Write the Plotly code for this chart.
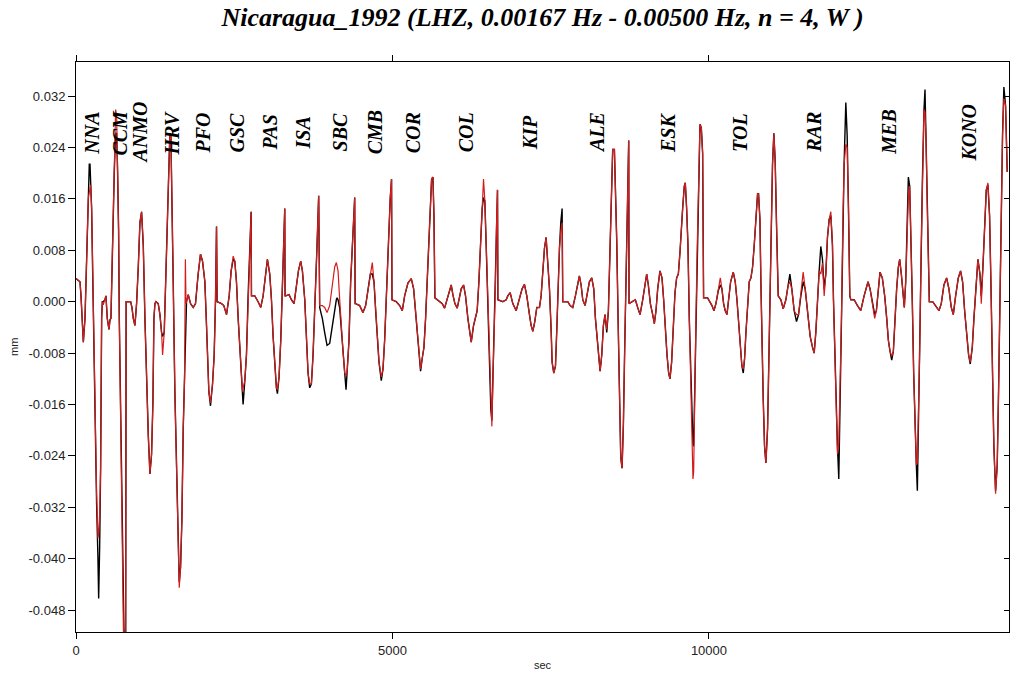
import plotly.graph_objects as go

# ---------------- data ----------------
station_names = ["NNA", "CCM", "ANMO", "HRV", "PFO", "GSC", "PAS", "ISA", "SBC", "CMB",
                 "COR", "COL", "KIP", "ALE", "ESK", "TOL", "RAR", "MEB", "KONO"]
station_label_t = [252, 694, 1010, 1515, 2004, 2540, 3061, 3582, 4166, 4718,
                   5318, 6154, 7164, 8221, 9342, 10478, 11661, 12845, 14107]
station_label_y = 0.0263

x_tick_vals = [0, 5000, 10000]
x_tick_text = ["0", "5000", "10000"]
y_tick_vals = [-0.048, -0.040, -0.032, -0.024, -0.016, -0.008, 0.0, 0.008, 0.016, 0.024, 0.032]
y_tick_text = ["-0.048", "-0.040", "-0.032", "-0.024", "-0.016", "-0.008", "0.000",
               "0.008", "0.016", "0.024", "0.032"]

t_sec = [
    # NNA
    0, 63, 79, 95, 116, 142, 158, 179, 195, 210, 221, 231, 247, 263, 284, 305, 326, 347, 358, 374, 389, 405, 416,
    # CCM
    431, 458, 473, 494, 521, 537, 552, 563, 589, 605, 626, 642, 657, 673, 684, 705, 721, 736, 757, 773, 784, 792,
    # ANMO
    800, 863, 884, 905, 931, 957, 984, 1010, 1036, 1063, 1089, 1115, 1142, 1168, 1194, 1215, 1231, 1247,
    # HRV
    1262, 1299, 1326, 1352, 1368, 1394, 1415, 1431, 1457, 1483, 1499, 1515, 1536, 1562, 1589, 1615, 1631, 1652,
    1673, 1694, 1715, 1728, 1738,
    # PFO
    1746, 1773, 1810, 1852, 1888, 1930, 1967, 1999, 2036, 2062, 2078, 2099, 2125, 2157, 2183, 2204, 2220, 2226,
    # GSC
    2230, 2299, 2335, 2378, 2420, 2451, 2483, 2509, 2535, 2562, 2588, 2614, 2630, 2640, 2667, 2693, 2719, 2746,
    2767, 2772,
    # PAS
    2825, 2877, 2919, 2956, 2982, 3024, 3061, 3088, 3114, 3140, 3166, 3182, 3208, 3235, 3261, 3282, 3298, 3303,
    # ISA
    3314, 3366, 3403, 3445, 3482, 3514, 3550, 3577, 3614, 3640, 3666, 3692, 3719, 3745, 3771, 3808, 3834, 3840,
    # SBC
    3850, 3877, 3892, 3929, 3966, 4008, 4050, 4087, 4113, 4124, 4140, 4166, 4192, 4218, 4245, 4266, 4282, 4313,
    4339, 4376, 4403, 4410,
    # CMB
    4418, 4481, 4534, 4576, 4613, 4650, 4681, 4708, 4734, 4760, 4787, 4823, 4850, 4876, 4902, 4934, 4965, 4985,
    4992,
    # COR
    5060, 5113, 5155, 5192, 5244, 5297, 5334, 5365, 5392, 5418, 5444, 5470, 5497, 5523, 5549, 5576, 5597, 5618,
    5639, 5655, 5670,
    # COL
    5744, 5786, 5823, 5860, 5891, 5928, 5954, 5986, 6023, 6060, 6086, 6123, 6154, 6191, 6217, 6244, 6281, 6312,
    6338, 6365, 6391, 6417, 6438, 6459, 6480, 6496, 6517, 6533, 6554, 6570, 6586, 6607, 6628, 6643, 6659, 6665,
    # KIP
    6743, 6796, 6822, 6859, 6901, 6954, 7006, 7048, 7085, 7122, 7164, 7190, 7217, 7248, 7280, 7322, 7348, 7375,
    7401, 7427, 7454, 7480, 7506, 7522, 7548, 7575, 7596, 7617, 7638, 7659, 7680, 7690,
    # ALE
    7769, 7806, 7848, 7890, 7927, 7953, 7980, 8006, 8043, 8074, 8111, 8148, 8180, 8206, 8232, 8258, 8280, 8306,
    8332, 8358, 8385, 8411, 8437, 8458, 8479, 8506, 8521, 8543, 8564, 8585, 8606, 8627, 8648, 8669, 8690, 8711,
    8732, 8737,
    # ESK
    8795, 8837, 8874, 8911, 8953, 8990, 9016, 9042, 9074, 9111, 9137, 9163, 9190, 9226, 9258, 9284, 9310, 9337,
    9363, 9384, 9410, 9437, 9463, 9489, 9516, 9542, 9563, 9584, 9610, 9626, 9647, 9668, 9689, 9710, 9731, 9747,
    9758, 9773, 9794, 9815, 9836, 9858, 9879, 9900, 9915,
    # TOL
    9979, 10047, 10079, 10110, 10147, 10179, 10205, 10231, 10257, 10284, 10310, 10342, 10384, 10415, 10442,
    10468, 10494, 10520, 10542, 10563, 10584, 10610, 10636, 10663, 10689, 10715, 10741, 10768, 10783, 10805,
    10820, 10836, 10857, 10878, 10899, 10926, 10941, 10962, 10983, 11004, 11025, 11046, 11068, 11083,
    # RAR
    11094, 11136, 11173, 11215, 11252, 11278, 11309, 11346, 11383, 11415, 11452, 11488, 11520, 11557, 11599,
    11636, 11662, 11688, 11715, 11741, 11767, 11793, 11820, 11846, 11872, 11899, 11925, 11951, 11967, 11988,
    12009, 12030, 12051, 12072, 12093, 12114, 12135, 12162, 12183, 12204, 12225,
    # MEB
    12241, 12293, 12346, 12398, 12451, 12476, 12513, 12545, 12582, 12618, 12645, 12671, 12702, 12739, 12776,
    12808, 12834, 12860, 12887, 12913, 12939, 12965, 12992, 13013, 13039, 13065, 13086, 13108, 13129, 13150,
    13171, 13192, 13213, 13234, 13255, 13276, 13292, 13307, 13328, 13349, 13371, 13397, 13413, 13428, 13449,
    13470,
    # KONO
    13481, 13534, 13581, 13634, 13670, 13712, 13754, 13791, 13828, 13860, 13897, 13939, 13975, 14007, 14039,
    14070, 14102, 14128, 14160, 14186, 14218, 14249, 14281, 14302, 14328, 14354, 14381, 14407, 14433, 14454,
    14475, 14501, 14528, 14554, 14575, 14596, 14617, 14638, 14659, 14686, 14712,
]

# observed (black) displacement, mm
obs_mm = [
    # NNA
    0.0036, 0.0031, 0.0009, -0.0020, -0.0063, -0.0026, 0.0037, 0.0100, 0.0162, 0.0214, 0.0214, 0.0185, 0.0145,
    0.0048, -0.0083, -0.0214, -0.0316, -0.0400, -0.0462, -0.0380, -0.0259, -0.0026, 0.0000,
    # CCM
    0.0000, 0.0003, 0.0009, -0.0026, -0.0043, -0.0028, -0.0026, 0.0026, 0.0123, 0.0202, 0.0262, 0.0262, 0.0202,
    0.0111, -0.0026, -0.0168, -0.0311, -0.0425, -0.0510, -0.0550, -0.0560, 0.0000,
    # ANMO
    0.0000, 0.0000, -0.0009, -0.0026, -0.0037, -0.0003, 0.0054, 0.0123, 0.0140, 0.0088, -0.0026, -0.0128,
    -0.0208, -0.0268, -0.0237, -0.0157, -0.0026, -0.0003,
    # HRV
    0.0000, -0.0003, -0.0020, -0.0048, -0.0054, -0.0048, 0.0031, 0.0105, 0.0191, 0.0262, 0.0259, 0.0174, 0.0031,
    -0.0140, -0.0271, -0.0385, -0.0436, -0.0413, -0.0339, -0.0197, -0.0120, -0.0030, -0.0003,
    # PFO
    0.0000, 0.0011, -0.0003, -0.0009, -0.0003, 0.0043, 0.0074, 0.0063, 0.0031, -0.0037, -0.0094, -0.0140,
    -0.0162, -0.0128, -0.0083, 0.0003, 0.0117, 0.0000,
    # GSC
    0.0000, -0.0003, -0.0006, -0.0020, 0.0009, 0.0048, 0.0066, 0.0063, 0.0031, -0.0026, -0.0071, -0.0123,
    -0.0143, -0.0160, -0.0123, -0.0083, 0.0009, 0.0088, 0.0140, 0.0009,
    # PAS
    0.0009, 0.0000, -0.0009, 0.0009, 0.0031, 0.0066, 0.0043, 0.0003, -0.0054, -0.0100, -0.0134, -0.0143,
    -0.0117, -0.0060, 0.0031, 0.0088, 0.0145, 0.0009,
    # ISA
    0.0009, 0.0011, 0.0003, -0.0003, 0.0026, 0.0048, 0.0063, 0.0048, 0.0003, -0.0054, -0.0111, -0.0134,
    -0.0128, -0.0083, 0.0003, 0.0088, 0.0165, -0.0006,
    # SBC
    -0.0009, -0.0020, -0.0026, -0.0048, -0.0068, -0.0065, -0.0037, -0.0009, 0.0003, 0.0006, 0.0003, -0.0010,
    -0.0043, -0.0077, -0.0111, -0.0137, -0.0111, -0.0060, 0.0031, 0.0100, 0.0162, -0.0003,
    # CMB
    -0.0003, -0.0006, -0.0017, -0.0006, 0.0020, 0.0043, 0.0043, 0.0031, -0.0014, -0.0054, -0.0094, -0.0123,
    -0.0105, -0.0060, 0.0009, 0.0088, 0.0162, 0.0191, 0.0003,
    # COR
    0.0000, -0.0006, -0.0014, 0.0009, 0.0029, 0.0036, 0.0020, -0.0014, -0.0054, -0.0083, -0.0108, -0.0088,
    -0.0071, -0.0026, 0.0031, 0.0100, 0.0145, 0.0191, 0.0194, 0.0134, 0.0006,
    # COL
    0.0000, -0.0003, -0.0010, 0.0003, 0.0014, 0.0026, 0.0011, -0.0003, -0.0010, 0.0009, 0.0020, 0.0026,
    0.0009, -0.0026, -0.0048, -0.0063, -0.0037, -0.0026, -0.0014, 0.0031, 0.0088, 0.0145, 0.0162, 0.0157,
    0.0088, 0.0031, -0.0026, -0.0100, -0.0168, -0.0185, -0.0123, -0.0054, 0.0031, 0.0117, 0.0174, 0.0003,
    # KIP
    0.0000, 0.0003, 0.0009, 0.0014, -0.0003, -0.0014, 0.0003, 0.0020, 0.0027, 0.0009, -0.0020, -0.0037,
    -0.0046, -0.0031, -0.0009, -0.0009, 0.0009, 0.0043, 0.0083, 0.0100, 0.0066, 0.0020, -0.0043, -0.0094,
    -0.0111, -0.0100, -0.0043, 0.0031, 0.0083, 0.0123, 0.0145, 0.0000,
    # ALE
    0.0000, -0.0006, -0.0009, 0.0009, 0.0031, 0.0040, 0.0026, 0.0003, -0.0006, 0.0009, 0.0031, 0.0037, 0.0020,
    -0.0026, -0.0060, -0.0088, -0.0108, -0.0083, -0.0037, -0.0020, -0.0048, -0.0014, 0.0071, 0.0157, 0.0237,
    0.0237, 0.0185, 0.0094, -0.0026, -0.0168, -0.0242, -0.0259, -0.0191, -0.0071, 0.0060, 0.0185, 0.0251,
    -0.0003,
    # ESK
    0.0000, 0.0003, -0.0009, -0.0020, 0.0003, 0.0031, 0.0043, 0.0026, -0.0003, -0.0020, -0.0034, -0.0014,
    0.0020, 0.0048, 0.0037, 0.0003, -0.0043, -0.0083, -0.0111, -0.0120, -0.0094, -0.0043, 0.0014, 0.0037,
    0.0043, 0.0077, 0.0123, 0.0145, 0.0180, 0.0185, 0.0145, 0.0088, -0.0026, -0.0111, -0.0185, -0.0220,
    -0.0225, -0.0140, -0.0026, 0.0088, 0.0202, 0.0276, 0.0271, 0.0231, 0.0006,
    # TOL
    0.0006, -0.0006, -0.0014, -0.0003, 0.0017, 0.0026, 0.0020, -0.0003, -0.0014, -0.0020, 0.0003, 0.0031,
    0.0046, 0.0031, 0.0003, -0.0037, -0.0071, -0.0100, -0.0111, -0.0088, -0.0048, -0.0003, 0.0031, 0.0037,
    0.0054, 0.0088, 0.0128, 0.0168, 0.0168, 0.0128, 0.0031, -0.0071, -0.0151, -0.0225, -0.0251, -0.0197,
    -0.0111, 0.0003, 0.0117, 0.0214, 0.0262, 0.0219, 0.0117, 0.0014,
    # RAR
    0.0009, 0.0003, -0.0011, 0.0003, 0.0026, 0.0043, 0.0020, -0.0014, -0.0031, -0.0020, 0.0009, 0.0031,
    0.0020, -0.0020, -0.0054, -0.0071, -0.0080, -0.0048, 0.0009, 0.0048, 0.0086, 0.0066, 0.0020, 0.0043,
    0.0100, 0.0128, 0.0134, 0.0088, 0.0003, -0.0083, -0.0174, -0.0225, -0.0276, -0.0140, -0.0026, 0.0117,
    0.0214, 0.0310, 0.0259, 0.0145, 0.0009,
    # MEB
    0.0003, 0.0003, -0.0006, -0.0014, 0.0009, 0.0017, 0.0031, 0.0020, -0.0003, -0.0020, -0.0014, 0.0020,
    0.0046, 0.0037, 0.0009, -0.0026, -0.0060, -0.0077, -0.0091, -0.0077, -0.0026, 0.0020, 0.0054, 0.0066,
    0.0043, 0.0009, -0.0009, 0.0031, 0.0100, 0.0194, 0.0180, 0.0100, -0.0003, -0.0111, -0.0197, -0.0254,
    -0.0294, -0.0197, -0.0083, 0.0060, 0.0185, 0.0299, 0.0330, 0.0259, 0.0145, 0.0000,
    # KONO
    0.0000, 0.0000, -0.0006, -0.0014, -0.0003, 0.0026, 0.0037, 0.0020, -0.0009, -0.0020, 0.0009, 0.0037,
    0.0048, 0.0031, -0.0014, -0.0054, -0.0083, -0.0097, -0.0071, -0.0026, 0.0031, 0.0066, 0.0043, 0.0009,
    0.0054, 0.0117, 0.0174, 0.0182, 0.0134, 0.0031, -0.0111, -0.0225, -0.0294, -0.0254, -0.0140, 0.0003,
    0.0145, 0.0259, 0.0334, 0.0305, 0.0202,
]

# synthetic (red) displacement, mm
syn_mm = [
    # NNA
    0.0036, 0.0031, 0.0009, -0.0020, -0.0063, -0.0026, 0.0037, 0.0100, 0.0162, 0.0170, 0.0182, 0.0182, 0.0145,
    0.0048, -0.0083, -0.0214, -0.0300, -0.0368, -0.0360, -0.0330, -0.0259, -0.0026, 0.0000,
    # CCM
    -0.0005, 0.0003, 0.0009, -0.0026, -0.0043, -0.0028, -0.0026, 0.0026, 0.0123, 0.0202, 0.0299, 0.0290, 0.0202,
    0.0111, -0.0026, -0.0168, -0.0311, -0.0425, -0.0570, -0.0570, -0.0570, 0.0000,
    # ANMO
    0.0000, 0.0000, -0.0009, -0.0026, -0.0037, -0.0003, 0.0054, 0.0123, 0.0140, 0.0088, -0.0026, -0.0128,
    -0.0208, -0.0268, -0.0237, -0.0157, -0.0026, -0.0003,
    # HRV
    0.0000, -0.0003, -0.0020, -0.0048, -0.0083, -0.0048, 0.0031, 0.0105, 0.0191, 0.0262, 0.0259, 0.0174, 0.0031,
    -0.0140, -0.0271, -0.0385, -0.0445, -0.0413, -0.0339, -0.0197, -0.0120, 0.0066, -0.0003,
    # PFO
    0.0000, 0.0011, -0.0003, -0.0009, -0.0003, 0.0043, 0.0074, 0.0063, 0.0031, -0.0037, -0.0094, -0.0140,
    -0.0157, -0.0128, -0.0083, 0.0003, 0.0117, 0.0000,
    # GSC
    0.0000, -0.0003, -0.0006, -0.0020, 0.0009, 0.0048, 0.0071, 0.0063, 0.0031, -0.0026, -0.0071, -0.0123,
    -0.0140, -0.0134, -0.0123, -0.0083, 0.0009, 0.0088, 0.0140, 0.0009,
    # PAS
    0.0009, 0.0000, -0.0009, 0.0009, 0.0031, 0.0066, 0.0043, 0.0003, -0.0054, -0.0100, -0.0134, -0.0137,
    -0.0117, -0.0060, 0.0031, 0.0088, 0.0145, 0.0009,
    # ISA
    0.0009, 0.0011, 0.0003, -0.0003, 0.0026, 0.0048, 0.0063, 0.0048, 0.0003, -0.0054, -0.0111, -0.0128,
    -0.0128, -0.0083, 0.0003, 0.0088, 0.0165, -0.0006,
    # SBC
    -0.0006, -0.0006, -0.0006, -0.0009, -0.0017, -0.0006, 0.0031, 0.0054, 0.0061, 0.0055, 0.0048, 0.0003,
    -0.0043, -0.0077, -0.0111, -0.0114, -0.0111, -0.0060, 0.0031, 0.0100, 0.0162, -0.0003,
    # CMB
    -0.0003, -0.0006, -0.0017, -0.0006, 0.0020, 0.0043, 0.0061, 0.0031, -0.0014, -0.0054, -0.0094, -0.0117,
    -0.0105, -0.0060, 0.0009, 0.0088, 0.0162, 0.0191, 0.0003,
    # COR
    0.0000, -0.0006, -0.0014, 0.0009, 0.0029, 0.0036, 0.0020, -0.0014, -0.0054, -0.0083, -0.0105, -0.0088,
    -0.0071, -0.0026, 0.0031, 0.0100, 0.0145, 0.0191, 0.0194, 0.0134, 0.0006,
    # COL
    0.0000, -0.0003, -0.0010, 0.0003, 0.0014, 0.0026, 0.0011, -0.0003, -0.0010, 0.0009, 0.0020, 0.0026,
    0.0009, -0.0026, -0.0048, -0.0063, -0.0037, -0.0026, -0.0014, 0.0031, 0.0088, 0.0145, 0.0191, 0.0157,
    0.0088, 0.0031, -0.0026, -0.0100, -0.0168, -0.0194, -0.0123, -0.0054, 0.0031, 0.0117, 0.0174, 0.0003,
    # KIP
    0.0000, 0.0003, 0.0009, 0.0014, -0.0003, -0.0014, 0.0003, 0.0020, 0.0027, 0.0009, -0.0020, -0.0037,
    -0.0046, -0.0031, -0.0009, -0.0009, 0.0009, 0.0043, 0.0083, 0.0100, 0.0066, 0.0020, -0.0043, -0.0094,
    -0.0111, -0.0100, -0.0043, 0.0031, 0.0083, 0.0110, 0.0123, 0.0000,
    # ALE
    0.0000, -0.0006, -0.0009, 0.0009, 0.0031, 0.0040, 0.0026, 0.0003, -0.0006, 0.0009, 0.0031, 0.0037, 0.0020,
    -0.0026, -0.0060, -0.0088, -0.0108, -0.0083, -0.0037, -0.0020, -0.0043, -0.0014, 0.0071, 0.0157, 0.0237,
    0.0237, 0.0185, 0.0094, -0.0026, -0.0168, -0.0242, -0.0259, -0.0191, -0.0071, 0.0060, 0.0185, 0.0251,
    -0.0003,
    # ESK
    0.0000, 0.0003, -0.0009, -0.0020, 0.0003, 0.0031, 0.0043, 0.0026, -0.0003, -0.0020, -0.0034, -0.0014,
    0.0020, 0.0048, 0.0037, 0.0003, -0.0043, -0.0083, -0.0111, -0.0120, -0.0094, -0.0043, 0.0014, 0.0037,
    0.0043, 0.0077, 0.0123, 0.0145, 0.0180, 0.0185, 0.0145, 0.0088, -0.0026, -0.0111, -0.0185, -0.0276,
    -0.0265, -0.0140, -0.0026, 0.0088, 0.0202, 0.0276, 0.0271, 0.0231, 0.0006,
    # TOL
    0.0006, -0.0006, -0.0014, -0.0003, 0.0017, 0.0037, 0.0020, -0.0003, -0.0014, -0.0020, 0.0003, 0.0031,
    0.0046, 0.0031, 0.0003, -0.0037, -0.0071, -0.0100, -0.0105, -0.0088, -0.0048, -0.0003, 0.0031, 0.0037,
    0.0054, 0.0088, 0.0128, 0.0168, 0.0168, 0.0128, 0.0031, -0.0071, -0.0151, -0.0225, -0.0251, -0.0197,
    -0.0111, 0.0003, 0.0117, 0.0214, 0.0262, 0.0219, 0.0117, 0.0014,
    # RAR
    0.0009, 0.0003, -0.0011, 0.0003, 0.0026, 0.0031, 0.0020, -0.0014, -0.0020, -0.0020, 0.0009, 0.0046,
    0.0020, -0.0020, -0.0054, -0.0071, -0.0080, -0.0048, 0.0009, 0.0048, 0.0043, 0.0060, 0.0009, 0.0043,
    0.0100, 0.0128, 0.0140, 0.0088, 0.0003, -0.0083, -0.0174, -0.0237, -0.0220, -0.0140, -0.0026, 0.0117,
    0.0214, 0.0245, 0.0240, 0.0145, 0.0009,
    # MEB
    0.0003, 0.0003, -0.0006, -0.0014, 0.0009, 0.0017, 0.0031, 0.0020, -0.0003, -0.0026, -0.0014, 0.0020,
    0.0046, 0.0037, 0.0009, -0.0026, -0.0060, -0.0077, -0.0085, -0.0077, -0.0026, 0.0020, 0.0054, 0.0066,
    0.0043, 0.0009, -0.0009, 0.0031, 0.0100, 0.0162, 0.0180, 0.0100, -0.0003, -0.0111, -0.0197, -0.0254,
    -0.0250, -0.0197, -0.0083, 0.0060, 0.0185, 0.0299, 0.0295, 0.0259, 0.0145, 0.0000,
    # KONO
    0.0000, 0.0000, -0.0006, -0.0014, -0.0003, 0.0026, 0.0037, 0.0020, -0.0009, -0.0020, 0.0009, 0.0037,
    0.0048, 0.0031, -0.0014, -0.0054, -0.0083, -0.0094, -0.0071, -0.0026, 0.0031, 0.0066, 0.0043, -0.0003,
    0.0054, 0.0117, 0.0174, 0.0185, 0.0134, 0.0031, -0.0111, -0.0225, -0.0299, -0.0254, -0.0140, 0.0003,
    0.0145, 0.0259, 0.0316, 0.0305, 0.0202,
]

assert len(t_sec) == len(obs_mm) == len(syn_mm), (len(t_sec), len(obs_mm), len(syn_mm))

# ---------------- figure ----------------
W, H = 1013, 677
ML, MR, MT, MB = 76, 4, 62, 45
X_RANGE = [0, 14740]
Y_RANGE = [-0.0514, 0.0373]

fig = go.Figure()
fig.add_trace(go.Scatter(x=t_sec, y=obs_mm, mode="lines",
                         line=dict(color="#000000", width=1.4), showlegend=False, hoverinfo="skip"))
fig.add_trace(go.Scatter(x=t_sec, y=syn_mm, mode="lines",
                         line=dict(color="#d41c1c", width=1.2), showlegend=False, hoverinfo="skip"))
# invisible copy on the right-hand axis so that its inside ticks are drawn
fig.add_trace(go.Scatter(x=t_sec, y=syn_mm, mode="lines", yaxis="y2", opacity=0,
                         line=dict(width=0), showlegend=False, hoverinfo="skip"))

tick_font = dict(family="Liberation Sans, Arial, sans-serif", size=13, color="#222222")

annotations = []
for name, ts in zip(station_names, station_label_t):
    annotations.append(dict(x=ts, y=station_label_y, xref="x", yref="y",
                            text=f"<b><i>{name}</i></b>", textangle=-90, showarrow=False,
                            xanchor="center", yanchor="middle",
                            font=dict(family="Liberation Serif, Times New Roman, serif", size=20, color="#000000")))
annotations.append(dict(x=(14 - ML) / (W - ML - MR), y=0.5, xref="paper", yref="paper", text="mm",
                        textangle=-90, showarrow=False, xanchor="center", yanchor="middle",
                        font=dict(family="Liberation Sans, Arial, sans-serif", size=11, color="#222222")))
annotations.append(dict(x=0.5, y=-(665 - (H - MB)) / (H - MT - MB), xref="paper", yref="paper", text="sec",
                        showarrow=False, xanchor="center", yanchor="middle",
                        font=dict(family="Liberation Sans, Arial, sans-serif", size=11, color="#222222")))

fig.update_layout(
    width=W, height=H,
    margin=dict(l=ML, r=MR, t=MT, b=MB),
    paper_bgcolor="white", plot_bgcolor="white",
    title=dict(text="<b><i>Nicaragua_1992 (LHZ, 0.00167 Hz - 0.00500 Hz, n = 4, W )</i></b>",
               x=0.5, xref="paper", xanchor="center", y=1 - 17 / H, yref="container", yanchor="middle",
               font=dict(family="Liberation Serif, Times New Roman, serif", size=26, color="#000000")),
    xaxis=dict(range=X_RANGE, tickvals=x_tick_vals, ticktext=x_tick_text, ticks="outside", ticklen=6,
               tickcolor="#000000", showline=True, linecolor="#000000", linewidth=1, mirror="ticks",
               showgrid=False, zeroline=False, tickfont=tick_font),
    yaxis=dict(range=Y_RANGE, tickvals=y_tick_vals, ticktext=y_tick_text, ticks="outside", ticklen=7,
               tickcolor="#000000", showline=True, linecolor="#000000", linewidth=1, mirror=True,
               showgrid=False, zeroline=False, tickfont=tick_font),
    yaxis2=dict(range=Y_RANGE, tickvals=y_tick_vals, overlaying="y", side="right", anchor="x",
                ticks="inside", ticklen=5, tickcolor="#000000", showticklabels=False,
                showgrid=False, zeroline=False, showline=False),
    annotations=annotations,
)

fig.write_html("out.html")
